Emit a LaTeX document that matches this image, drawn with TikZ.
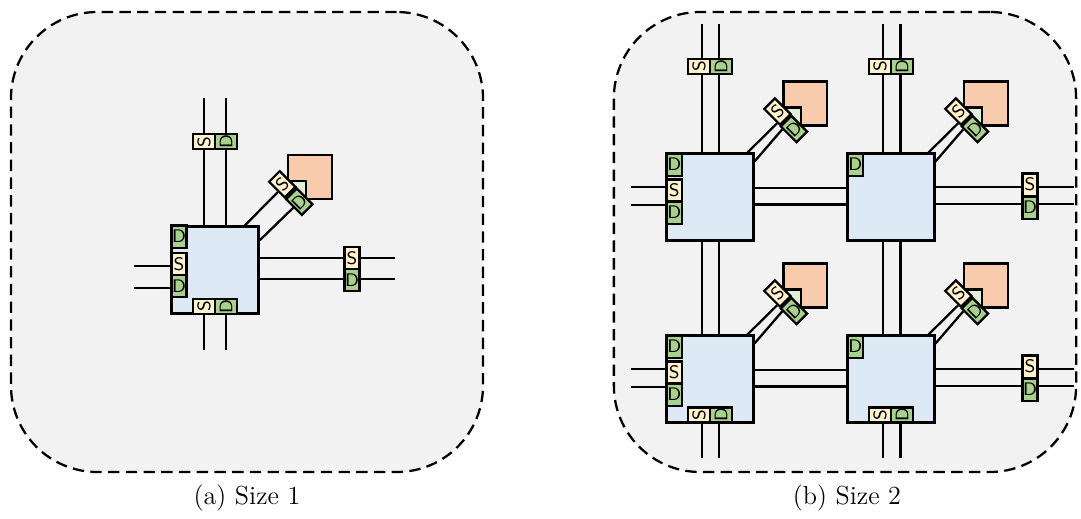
\documentclass[tikz,border=0pt]{standalone}
\usepackage{xcolor}
\usepackage{tikz}
\usetikzlibrary{calc}
\definecolor{panelgray}{HTML}{F2F2F2}
\definecolor{routerblue}{HTML}{DEE9F6}
\definecolor{coreorange}{HTML}{F8CBAD}
\definecolor{linkgreen}{HTML}{E2F0D9}
\definecolor{srcyellow}{HTML}{FFF2CC}
\definecolor{dstgreen}{HTML}{A9D18E}
\tikzset{
  panel/.style={draw,fill=panelgray,dashed,dash pattern=on 5pt off 2.8pt,line width=1pt,rounded corners=38pt,minimum width=207.7pt,minimum height=202.4pt,inner sep=0pt},
  router/.style={draw,fill=routerblue,line width=1pt,minimum size=38.2pt,inner sep=0pt},
  core/.style={draw,fill=coreorange,line width=1pt,minimum size=19.3pt,inner sep=0pt},
  corelink/.style={draw,fill=linkgreen,line width=1pt,minimum size=7.9pt,inner sep=0pt},
  srcport/.style={draw,fill=srcyellow,line width=1pt,minimum width=6.6pt,minimum height=9.8pt,inner sep=0pt,font=\sffamily\fontsize{8}{8}\selectfont},
  dstport/.style={srcport,fill=dstgreen},
  wire/.style={line width=1pt},
  caption/.style={font=\fontsize{11.5}{13}\selectfont}
}
\begin{document}
\begin{tikzpicture}[x=0.44pt,y=-0.44pt]
\useasboundingbox (0,0) rectangle (1081,519);
\node[panel] (panelA) at (247,242) {};
\node[panel,minimum width=203.4pt] (panelB) at (845,242) {};
\node[caption] (capA) at (247,498) {(a) Size 1};
\node[caption] (capB) at (847,498) {(b) Size 2};

\node[core] (coreA) at (310,177) {};
\node[corelink] (linkA) at (297,190) {};
\node[router] (routerA) at (215,270) {};
\coordinate (topA1) at (204,98);
\coordinate (topA2) at (225.7,98);
\coordinate (botA1) at (204,350);
\coordinate (botA2) at (225.7,350);
\coordinate (leftA1) at (134,266);
\coordinate (leftA2) at (134,287.7);
\coordinate (rightA1) at (395,258.3);
\coordinate (rightA2) at (395,279.3);
\draw[wire] (topA1) -- (topA1 |- routerA.north);
\draw[wire] (topA2) -- (topA2 |- routerA.north);
\draw[wire] (botA1) -- (botA1 |- routerA.south);
\draw[wire] (botA2) -- (botA2 |- routerA.south);
\draw[wire] (leftA1) -- (leftA1 -| routerA.west);
\draw[wire] (leftA2) -- (leftA2 -| routerA.west);
\draw[wire] (rightA1) -- (rightA1 -| routerA.east);
\draw[wire] (rightA2) -- (rightA2 -| routerA.east);
\node[srcport,rotate=90] (sTopA) at (204,141.7) {S};
\node[dstport,rotate=90] (dTopA) at (226,141.7) {D};
\node[srcport,rotate=90] (sBotA) at (204,306.5) {S};
\node[dstport,rotate=90] (dBotA) at (226,306.5) {D};
\node[dstport] (dCornerA) at (179,236.5) {D};
\node[srcport] (sLeftA) at (179,264) {S};
\node[dstport] (dLeftA) at (179,286) {D};
\node[srcport] (sRightA) at (352,258) {S};
\node[dstport] (dRightA) at (352,280) {D};
\node[srcport,rotate=45] (sDiagA) at (282.3,184.3) {S};
\node[dstport,rotate=45] (dDiagA) at (299.3,201.7) {D};
\draw[wire] ($(routerA.north east)+(-14.7,0)$) -- (sDiagA.195);
\draw[wire] ($(routerA.north east)+(0,15)$) -- (dDiagA.west);

\node[core] (coreB1) at (805.3,103.5) {};
\node[corelink] (linkB1) at (792,116.5) {};
\node[core] (coreB2) at (986,103.5) {};
\node[corelink] (linkB2) at (973,116.5) {};
\node[core] (coreB3) at (805.3,285.5) {};
\node[corelink] (linkB3) at (792,298.5) {};
\node[core] (coreB4) at (986,285.5) {};
\node[corelink] (linkB4) at (973,298.5) {};
\node[router] (routerB1) at (710,197) {};
\node[router] (routerB2) at (891,197) {};
\node[router] (routerB3) at (710,379) {};
\node[router] (routerB4) at (891,379) {};
\coordinate (topB1) at (701.7,24);
\coordinate (topB2) at (719.3,24);
\coordinate (topB3) at (882.7,24);
\coordinate (topB4) at (900.5,24);
\coordinate (botB1) at (701.7,458);
\coordinate (botB2) at (719.3,458);
\coordinate (botB3) at (882.7,458);
\coordinate (botB4) at (900.5,458);
\coordinate (leftB1) at (631,187);
\coordinate (leftB2) at (631,205);
\coordinate (leftB3) at (631,369);
\coordinate (leftB4) at (631,387);
\coordinate (rightB1) at (1074,186.7);
\coordinate (rightB2) at (1074,204.3);
\coordinate (rightB3) at (1074,368.7);
\coordinate (rightB4) at (1074,386.3);
\draw[wire] (topB1) -- (topB1 |- routerB1.north);
\draw[wire] (topB2) -- (topB2 |- routerB1.north);
\draw[wire] (topB3) -- (topB3 |- routerB2.north);
\draw[wire] (topB4) -- (topB4 |- routerB2.north);
\draw[wire] (botB1) -- (botB1 |- routerB3.south);
\draw[wire] (botB2) -- (botB2 |- routerB3.south);
\draw[wire] (botB3) -- (botB3 |- routerB4.south);
\draw[wire] (botB4) -- (botB4 |- routerB4.south);
\draw[wire] (leftB1) -- (leftB1 -| routerB1.west);
\draw[wire] (leftB2) -- (leftB2 -| routerB1.west);
\draw[wire] (leftB3) -- (leftB3 -| routerB3.west);
\draw[wire] (leftB4) -- (leftB4 -| routerB3.west);
\draw[wire] (rightB1) -- (rightB1 -| routerB2.east);
\draw[wire] (rightB2) -- (rightB2 -| routerB2.east);
\draw[wire] (rightB3) -- (rightB3 -| routerB4.east);
\draw[wire] (rightB4) -- (rightB4 -| routerB4.east);
\draw[wire] ($(routerB1.east)+(0,-8.7)$) -- ($(routerB2.west)+(0,-8.7)$);
\draw[wire] ($(routerB1.east)+(0,7.5)$) -- ($(routerB2.west)+(0,7.5)$);
\draw[wire] ($(routerB3.east)+(0,-8.7)$) -- ($(routerB4.west)+(0,-8.7)$);
\draw[wire] ($(routerB3.east)+(0,7.5)$) -- ($(routerB4.west)+(0,7.5)$);
\draw[wire] ($(routerB1.south)+(-8.3,0)$) -- ($(routerB3.north)+(-8.3,0)$);
\draw[wire] ($(routerB1.south)+(9.3,0)$) -- ($(routerB3.north)+(9.3,0)$);
\draw[wire] ($(routerB2.south)+(-8.3,0)$) -- ($(routerB4.north)+(-8.3,0)$);
\draw[wire] ($(routerB2.south)+(9.5,0)$) -- ($(routerB4.north)+(9.5,0)$);

\node[srcport,rotate=90] (sTopB1) at (699,66.5) {S};
\node[dstport,rotate=90] (dTopB1) at (721,66.5) {D};
\node[dstport] (dCornerB1) at (674.3,164.5) {D};
\node[srcport] (sLeftB1) at (674.3,190.5) {S};
\node[dstport] (dLeftB1) at (674.3,212.5) {D};
\node[srcport,rotate=45] (sDiagB1) at (777.5,111.5) {S};
\node[dstport,rotate=45] (dDiagB1) at (794,129) {D};
\draw[wire] ($(routerB1.north east)+(-7,0)$) -- (sDiagB1.223);
\draw[wire] ($(routerB1.north east)+(0,9)$) -- (dDiagB1.137);

\node[srcport,rotate=90] (sTopB2) at (880,66.5) {S};
\node[dstport,rotate=90] (dTopB2) at (902,66.5) {D};
\node[dstport] (dCornerB2) at (855.3,164.5) {D};
\node[srcport,rotate=45] (sDiagB2) at (958.5,111.5) {S};
\node[dstport,rotate=45] (dDiagB2) at (975,129) {D};
\node[srcport] (sRightB2) at (1030,184.5) {S};
\node[dstport] (dRightB2) at (1030,207.5) {D};
\draw[wire] ($(routerB2.north east)+(-7,0)$) -- (sDiagB2.223);
\draw[wire] ($(routerB2.north east)+(0,9)$) -- (dDiagB2.137);

\node[dstport] (dCornerB3) at (674.3,346.5) {D};
\node[srcport] (sLeftB3) at (674.3,372.5) {S};
\node[dstport] (dLeftB3) at (674.3,394.5) {D};
\node[srcport,rotate=90] (sBotB3) at (699,415) {S};
\node[dstport,rotate=90] (dBotB3) at (721,415) {D};
\node[srcport,rotate=45] (sDiagB3) at (777.5,293.5) {S};
\node[dstport,rotate=45] (dDiagB3) at (794,311) {D};
\draw[wire] ($(routerB3.north east)+(-7,0)$) -- (sDiagB3.223);
\draw[wire] ($(routerB3.north east)+(0,9)$) -- (dDiagB3.137);

\node[dstport] (dCornerB4) at (855.3,346.5) {D};
\node[srcport,rotate=90] (sBotB4) at (880,415) {S};
\node[dstport,rotate=90] (dBotB4) at (902,415) {D};
\node[srcport,rotate=45] (sDiagB4) at (958.5,293.5) {S};
\node[dstport,rotate=45] (dDiagB4) at (975,311) {D};
\node[srcport] (sRightB4) at (1030,366.5) {S};
\node[dstport] (dRightB4) at (1030,389.5) {D};
\draw[wire] ($(routerB4.north east)+(-7,0)$) -- (sDiagB4.223);
\draw[wire] ($(routerB4.north east)+(0,9)$) -- (dDiagB4.137);
\end{tikzpicture}
\end{document}
